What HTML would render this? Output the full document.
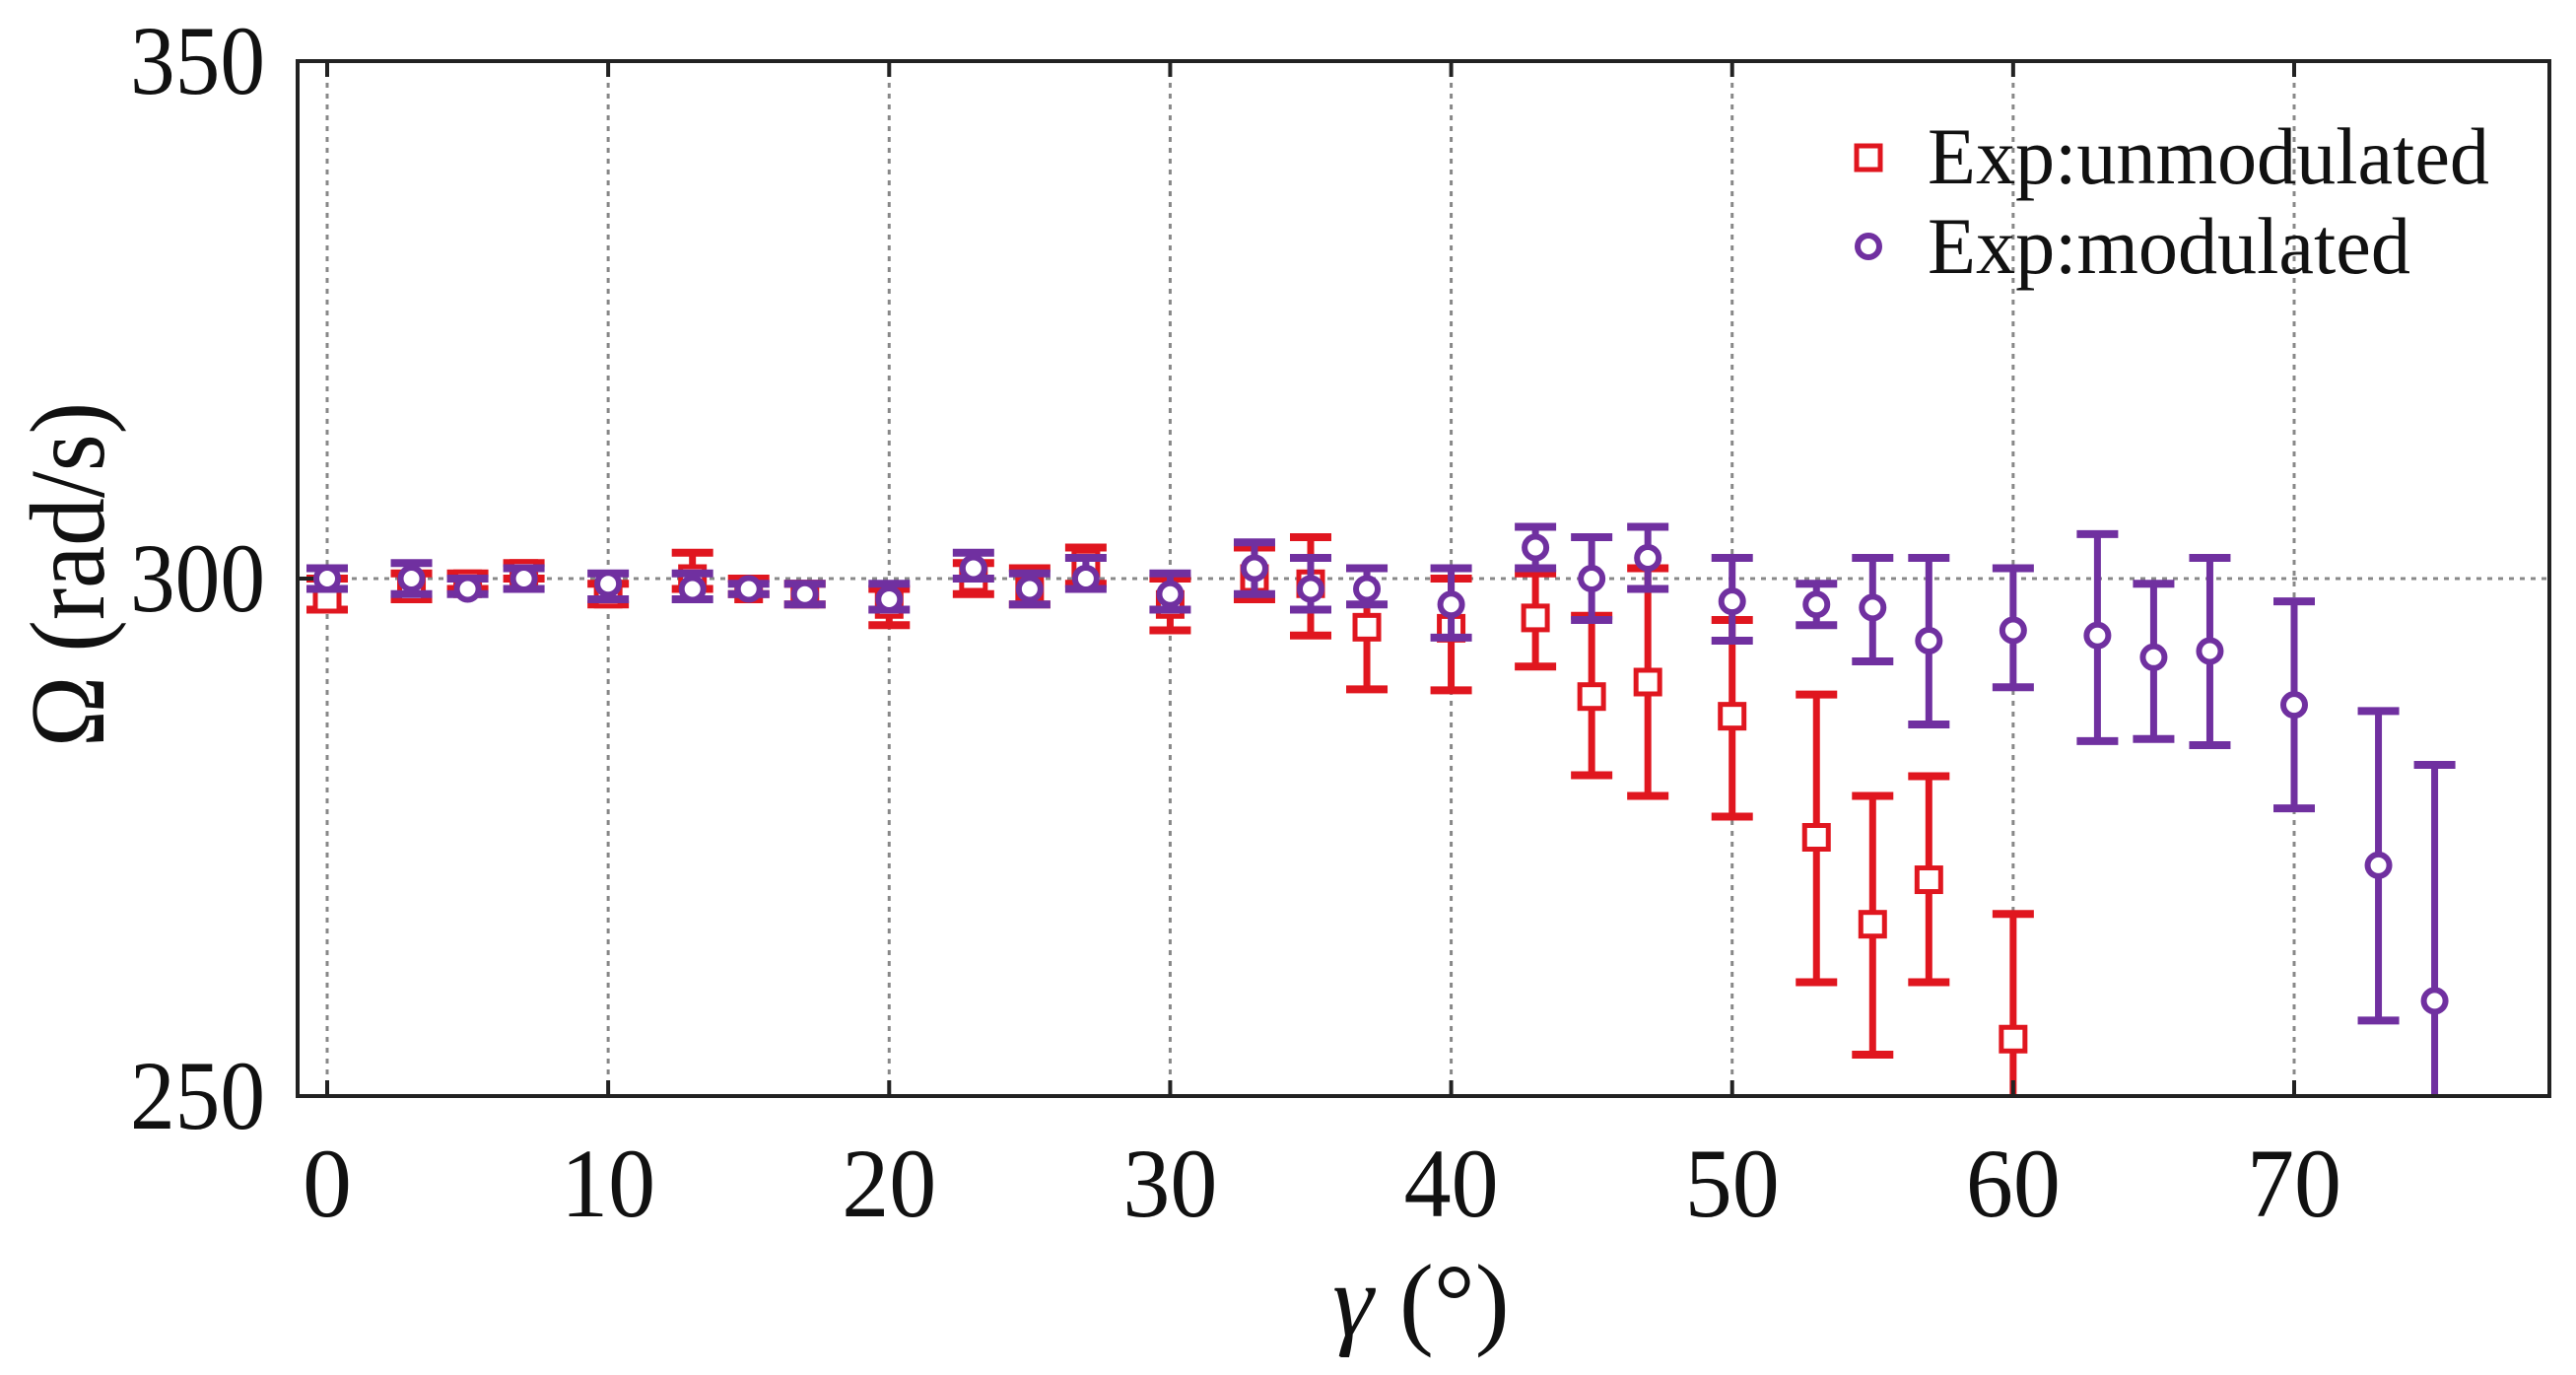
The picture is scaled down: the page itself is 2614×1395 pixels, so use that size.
<!DOCTYPE html>
<html><head><meta charset="utf-8"><style>
html,body{margin:0;padding:0;background:#fff;}
svg{display:block;font-family:"Liberation Serif",serif;}
</style></head><body>
<svg id="chart" width="2614" height="1395" viewBox="0 0 2614 1395" xmlns="http://www.w3.org/2000/svg">
<rect x="0" y="0" width="2614" height="1395" fill="#fff"/>
<g id="grid"></g>
<g id="marks"></g>
<rect x="302" y="62" width="2285" height="1050" fill="none" stroke="#222" stroke-width="4"/>
<g id="ticks"></g>
<text transform="translate(105,583) rotate(-90)" text-anchor="middle" font-size="108" textLength="350" lengthAdjust="spacingAndGlyphs" fill="#111">Ω (rad/s)</text>
<text x="1442" y="1355" text-anchor="middle" font-size="105" fill="#111"><tspan font-style="italic">γ</tspan> (°)</text>
<g>
<rect x="1884" y="148" width="24" height="24" fill="#fff" stroke="#e0161f" stroke-width="5"/>
<text x="1956" y="186" font-size="82" textLength="570" lengthAdjust="spacingAndGlyphs" fill="#111">Exp:unmodulated</text>
<circle cx="1896" cy="250" r="11" fill="#fff" stroke="#7030a0" stroke-width="6"/>
<text x="1956" y="277" font-size="82" textLength="490" lengthAdjust="spacingAndGlyphs" fill="#111">Exp:modulated</text>
</g>
</svg>
<script>
const xTicks=[0,10,20,30,40,50,60,70];
const yTicks=[250,300,350];
const redX=[0,3,5,7,10,13,15,17,20,23,25,27,30,33,35,37,40,43,45,47,50,53,55,57,60];
const redY=[298,299,299.5,300.5,298.5,300,299,298.5,297.5,300,299,301.5,297.5,300,299.5,295.3,295.2,296.2,288.6,290,286.7,275,266.6,270.9,255.5];
const redLo=[297,298,299,300,297.5,299,298.5,297.5,295.5,298.5,297.5,299.5,295,298,294.5,289.3,289.2,291.5,281,279,277,261,254,261,245];
const redHi=[300,300.5,300.5,301.5,299.5,302.5,300,299.5,299,301.5,301,303,300,303,304,301,300,300.5,296.4,301,296,288.8,279,280.9,267.6];
const purX=[0,3,5,7,10,13,15,17,20,23,25,27,30,33,35,37,40,43,45,47,50,53,55,57,60,63,65,67,70,73,75];
const purY=[300,300,299,300,299.5,299,299,298.5,298,301,299,300,298.5,301,299,299,297.5,303,300,302,297.8,297.5,297.2,294,295,294.5,292.4,293,287.8,272.3,259.2];
const purLo=[299,298.5,298.5,299,298,298,298.5,297.5,297,300,297.5,299,297,298.5,297,297.5,294.3,301,296,299,294,295.5,292,285.9,289.5,284.3,284.5,283.9,277.8,257.3,240];
const purHi=[301,301.5,300,301,300.5,300.5,299.5,299.5,299.5,302.5,300.5,302,300.5,303.5,302,301,301,305,304,305,302,299.5,302,302,301,304.3,299.5,302,297.8,287.2,282];

const L=302,R=2587,T=62,B=1112;
const sx=v=>332+(v-0)*(2328-332)/70;
const sy=v=>B-(v-250)*(B-T)/100;
const NS="http://www.w3.org/2000/svg";
function mk(tag,attrs,parent){const e=document.createElementNS(NS,tag);for(const k in attrs)e.setAttribute(k,attrs[k]);parent.appendChild(e);return e;}
const grid=document.getElementById('grid'),marks=document.getElementById('marks'),ticks=document.getElementById('ticks');
xTicks.forEach(v=>{
  const g=mk('line',{x1:sx(v),x2:sx(v),y1:T,y2:B,stroke:'#888','stroke-width':3,'stroke-dasharray':'5 6'},grid);
  
  
  const t1=mk('line',{x1:sx(v),x2:sx(v),y1:T,y2:T+16,stroke:'#222','stroke-width':4},ticks);
  
  
  const t2=mk('line',{x1:sx(v),x2:sx(v),y1:B-16,y2:B,stroke:'#222','stroke-width':4},ticks);
  
  
  const lb=mk('text',{x:sx(v),y:1234,'text-anchor':'middle','font-size':100,fill:'#111'},ticks);
  if(v>=10){lb.setAttribute('textLength',96);lb.setAttribute('lengthAdjust','spacingAndGlyphs');}
  lb.textContent=v;
  
  
});
yTicks.forEach(v=>{
  if(v>250&&v<350){
    const g=mk('line',{x1:L,x2:R,y1:sy(v),y2:sy(v),stroke:'#888','stroke-width':3,'stroke-dasharray':'5 6'},grid);
    
    
  }
  const t=mk('line',{x1:L,x2:L+16,y1:sy(v),y2:sy(v),stroke:'#222','stroke-width':4},ticks);
  
  
  const lb=mk('text',{x:269,y:sy(v)+33,'text-anchor':'end','font-size':100,textLength:137,lengthAdjust:'spacingAndGlyphs',fill:'#111'},ticks);
  lb.textContent=v;
  
  
});
const clip=mk('clipPath',{id:'pc'},document.getElementById('chart'));
mk('rect',{x:L,y:T,width:R-L,height:B-T},clip);
marks.setAttribute('clip-path','url(#pc)');
function series(xs,ys,lo,hi,color,shape,name){
  xs.forEach((x,i)=>{
    const g=mk('g',{},marks);
    
    
    const cx=sx(x),cy=sy(ys[i]),y1=sy(lo[i]),y2=sy(hi[i]);
    mk('line',{x1:cx,x2:cx,y1:y1,y2:y2,stroke:color,'stroke-width':7},g);
    mk('line',{x1:cx-21,x2:cx+21,y1:y1,y2:y1,stroke:color,'stroke-width':8},g);
    mk('line',{x1:cx-21,x2:cx+21,y1:y2,y2:y2,stroke:color,'stroke-width':8},g);
    if(shape==='sq') mk('rect',{x:cx-12,y:cy-12,width:24,height:24,fill:'#fff',stroke:color,'stroke-width':5},g);
    else mk('circle',{cx:cx,cy:cy,r:11,fill:'#fff',stroke:color,'stroke-width':6},g);
  });
}
series(redX,redY,redLo,redHi,'#e0161f','sq','unmodulated');
series(purX,purY,purLo,purHi,'#7030a0','ci','modulated');
</script>
</body></html>
